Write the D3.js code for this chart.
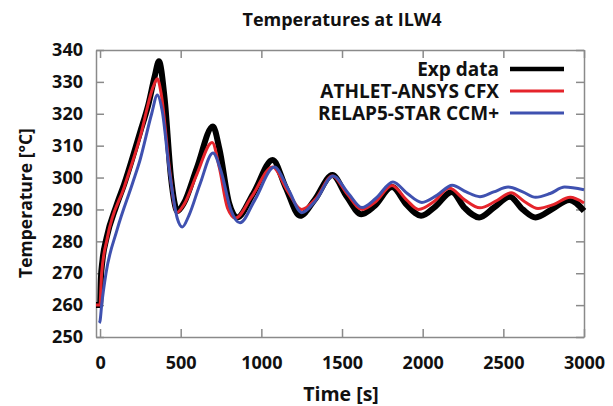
<!DOCTYPE html>
<html>
<head>
<meta charset="utf-8">
<script src="https://cdn.jsdelivr.net/npm/d3@7"></script>
<style>
  body { margin: 0; background: #fff; }
  text { font-family: "Open Sans", sans-serif; font-weight: bold; fill: #111; }
</style>
</head>
<body>
<svg id="svg01" width="613" height="406"></svg>
<script>
// series: [time s, temperature °C]
const expData = [[-25,260],[0,260],[5,268],[15,274],[40,281],[100,291],[150,298],[250,314.5],[300,323],[340,332],[365,336.5],[400,325],[440,300],[480,289.5],[520,292],[600,303],[700,316],[740,309],[800,292],[850,287.5],[950,295],[1070,305.5],[1150,297],[1240,288],[1330,293],[1440,300.8],[1530,294],[1620,288.5],[1700,291],[1810,297],[1900,291.5],[1990,288],[2080,291],[2180,295.5],[2260,290.5],[2350,287.5],[2440,290.5],[2540,294],[2620,290],[2700,287.5],[2800,290],[2910,293],[3000,289.5]]
const athlet = [[-25,260],[0,260],[5,265],[10,270],[45,281],[150,297],[250,313],[330,328.5],[355,331],[380,326],[430,303],[475,289],[520,291.5],[600,301],[695,311],[740,303],[790,290.5],[840,287.3],[940,294],[1070,303.3],[1160,296],[1250,290],[1340,293.5],[1440,300.5],[1530,295],[1625,290],[1710,292.5],[1810,297.5],[1900,293],[1975,290],[2070,292.5],[2165,296.7],[2260,293],[2355,290.5],[2450,292.5],[2548,295.2],[2630,292.5],[2715,290.3],[2810,291.5],[2914,293.8],[3000,292]]
const relap = [[-5,254.4],[0,255],[10,260],[37,270],[105,283.5],[200,298],[248,305.5],[320,320],[355,325.9],[385,321],[430,302],[480,287],[510,284.5],[550,288],[620,298],[700,307.7],[750,302],[810,290],[868,285.8],[960,293],[1080,303.3],[1170,296],[1250,289],[1340,293],[1444,300.5],[1540,295],[1624,290.6],[1710,293.5],[1816,298.6],[1905,295],[1995,292.2],[2090,294.5],[2183,297.6],[2270,295.5],[2355,294],[2440,295.5],[2530,297],[2620,295.5],[2700,293.8],[2790,295],[2880,297],[3000,296.2]]

const xTicks = [0,500,1000,1500,2000,2500,3000]
const yTicks = [250,260,270,280,290,300,310,320,330,340]
const legendNames = ["Exp data","ATHLET-ANSYS CFX","RELAP5-STAR CCM+"]
const colors = ["#000000","#e5242b","#3f51b0"]

margin = {top: 50, right: 29, bottom: 69, left: 96}
width = 613
height = 406

x = d3.scaleLinear()
    .domain([-25, 3000])
    .range([margin.left, width - margin.right])

y = d3.scaleLinear()
    .domain([250, 340])
    .range([height - margin.bottom, margin.top])

const svg = d3.select("#svg01")

const line = d3.line()
    .x(d => x(d[0]))
    .y(d => y(d[1]))
    .curve(d3.curveMonotoneX)

// axes: gray frame, inward ticks mirrored on all sides
const frame = "#8a8a8a"
svg.append("g")
    .attr("transform", `translate(0,${y(250)})`)
    .call(d3.axisBottom(x).tickValues(xTicks).tickFormat(d3.format("d")).tickSize(-8).tickPadding(19).tickSizeOuter(0))
    .call(g => g.selectAll("text").attr("font-size", 18).attr("fill", "#111"))
svg.append("g")
    .attr("transform", `translate(0,${y(340)})`)
    .call(d3.axisTop(x).tickValues(xTicks).tickSize(-8).tickFormat("").tickSizeOuter(0))
svg.append("g")
    .attr("transform", `translate(${x(-25)},0)`)
    .call(d3.axisLeft(y).tickValues(yTicks).tickSize(-8).tickPadding(13).tickSizeOuter(0))
    .call(g => g.selectAll("text").attr("font-size", 18).attr("fill", "#111"))
svg.append("g")
    .attr("transform", `translate(${x(3000)},0)`)
    .call(d3.axisRight(y).tickValues(yTicks).tickSize(-8).tickFormat("").tickSizeOuter(0))

svg.selectAll(".domain, .tick line")
    .attr("stroke", frame)
    .attr("stroke-width", 1.5)

// curves
const series = [expData, athlet, relap]
const widths = [6, 3, 3]
series.forEach((s, i) => {
    svg.append("path")
        .attr("d", line(s))
        .attr("fill", "none")
        .attr("stroke", colors[i])
        .attr("stroke-width", widths[i])
        .attr("stroke-linejoin", "round")
})

// legend
const lg = svg.append("g")
legendNames.forEach((n, i) => {
    const ly = 69 + i * 22
    lg.append("text")
        .attr("x", 499).attr("y", ly + 7)
        .attr("text-anchor", "end")
        .attr("font-size", 19)
        .text(n)
    lg.append("line")
        .attr("x1", 510).attr("x2", 564)
        .attr("y1", ly).attr("y2", ly)
        .attr("stroke", colors[i])
        .attr("stroke-width", i == 0 ? 4.5 : 3)
})

// titles
svg.append("text")
    .attr("x", 342).attr("y", 26)
    .attr("text-anchor", "middle")
    .attr("font-size", 18)
    .text("Temperatures at ILW4")
svg.append("text")
    .attr("x", 341).attr("y", 401)
    .attr("text-anchor", "middle")
    .attr("font-size", 19.5)
    .text("Time [s]")
svg.append("text")
    .attr("transform", "translate(32,203) rotate(-90)")
    .attr("text-anchor", "middle")
    .attr("font-size", 17.5)
    .text("Temperature [°C]")
</script>
</body>
</html>
